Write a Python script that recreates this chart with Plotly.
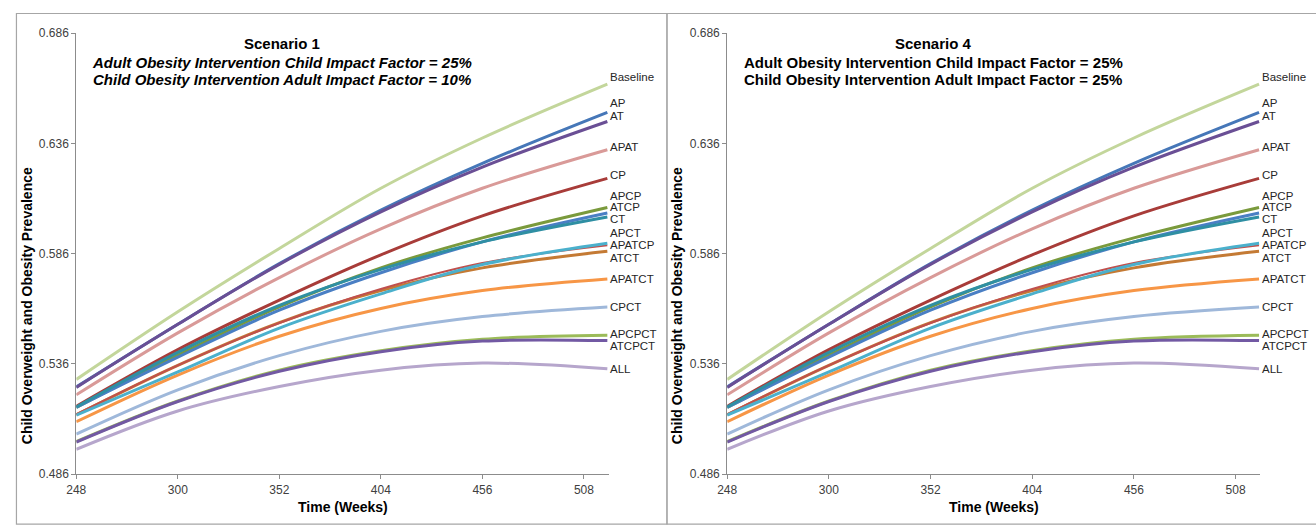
import plotly.graph_objects as go

weeks = [248, 300, 352, 404, 456, 520]

series_names = ["Baseline", "AP", "AT", "APAT", "CP", "APCP", "ATCP", "CT",
                "APCT", "APATCP", "ATCT", "APATCT", "CPCT", "APCPCT", "ATCPCT", "ALL"]

baseline = [0.5290, 0.5597, 0.5884, 0.6157, 0.6385, 0.6629]
ap       = [0.5256, 0.5540, 0.5815, 0.6058, 0.6270, 0.6501]
at       = [0.5254, 0.5540, 0.5812, 0.6050, 0.6253, 0.6460]
apat     = [0.5220, 0.5501, 0.5752, 0.5973, 0.6157, 0.6332]
cp       = [0.5168, 0.5425, 0.5650, 0.5855, 0.6032, 0.6202]
apcp     = [0.5163, 0.5400, 0.5619, 0.5796, 0.5932, 0.6070]
atcp     = [0.5163, 0.5391, 0.5604, 0.5774, 0.5914, 0.6045]
ct       = [0.5165, 0.5413, 0.5626, 0.5789, 0.5914, 0.6027]
apct     = [0.5128, 0.5324, 0.5523, 0.5678, 0.5811, 0.5908]
apatcp   = [0.5132, 0.5354, 0.5546, 0.5700, 0.5818, 0.5898]
atct     = [0.5130, 0.5354, 0.5548, 0.5693, 0.5796, 0.5871]
apatct   = [0.5098, 0.5310, 0.5486, 0.5612, 0.5693, 0.5746]
cpct     = [0.5042, 0.5243, 0.5398, 0.5508, 0.5575, 0.5618]
apcpct   = [0.5008, 0.5192, 0.5332, 0.5420, 0.5472, 0.5490]
atcpct   = [0.5006, 0.5190, 0.5327, 0.5416, 0.5464, 0.5466]
all_int  = [0.4973, 0.5147, 0.5258, 0.5332, 0.5364, 0.5338]

values = [baseline, ap, at, apat, cp, apcp, atcp, ct,
          apct, apatcp, atct, apatct, cpct, apcpct, atcpct, all_int]

x_ticks = [248, 300, 352, 404, 456, 508]
y_ticks = [0.486, 0.536, 0.586, 0.636, 0.686]
y_tick_labels = ["0.486", "0.536", "0.586", "0.636", "0.686"]

colors = ["#c3d69b", "#4677b8", "#6a4f95", "#d99a98", "#a83c39", "#7a9a3c",
          "#4a7fc4", "#2f8fa3", "#4bb0cc", "#c0504d", "#c47a34", "#f79646",
          "#9fb8da", "#9bbb59", "#7259a3", "#b6a6cc"]
widths = [3, 3, 3, 3, 3, 3, 3, 3, 3, 2, 3, 3, 3, 3, 3, 3]
# label vertical offsets (px) so end labels don't collide
label_shift = [7, 9, 5, 3, 3, 11, 6, -2, 10, 0, -7, 0, 0, 1, -5, 0]
draw_order = [0, 3, 4, 12, 15, 11, 10, 9, 8, 5, 6, 7, 1, 2, 13, 14]

panel_titles = [
    ("Scenario 1",
     "<i>Adult Obesity Intervention Child Impact Factor = 25%</i>",
     "<i>Child Obesity Intervention Adult Impact Factor = 10%</i>"),
    ("Scenario 4",
     "Adult Obesity Intervention Child Impact Factor = 25%",
     "Child Obesity Intervention Adult Impact Factor = 25%"),
]

W, H = 1316, 526
domains = [(66.8 / W, 603.3 / W), (722.7 / W, 1260 / W)]
ydom = (1 - 480 / H, 1 - 27 / H)

fig = go.Figure()
font_family = "Liberation Sans, Arial, sans-serif"

for p in range(2):
    xa = "x" if p == 0 else "x2"
    ya = "y" if p == 0 else "y2"
    for i in draw_order:
        fig.add_trace(go.Scatter(
            x=weeks, y=values[i], mode="lines", name=series_names[i],
            line=dict(color=colors[i], width=widths[i], shape="spline", smoothing=1.0),
            xaxis=xa, yaxis=ya, showlegend=False, hoverinfo="skip"))
    for i in range(len(series_names)):
        fig.add_annotation(x=weeks[-1], y=values[i][-1], xref=xa, yref=ya,
                           text=series_names[i], showarrow=False, xanchor="left",
                           yanchor="middle", xshift=1, yshift=label_shift[i],
                           font=dict(family=font_family, size=11.5, color="#262626"))

axis_common = dict(showgrid=False, zeroline=False, showline=True, linecolor="#8c8c8c",
                   linewidth=1, ticks="outside", ticklen=4, tickcolor="#8c8c8c",
                   tickfont=dict(family=font_family, size=12, color="#404040"))

for p in range(2):
    sfx = "" if p == 0 else "2"
    fig.update_layout(**{
        "xaxis" + sfx: dict(domain=list(domains[p]), range=[248, 520.7],
                             tickvals=x_ticks, anchor="y" + sfx, **axis_common),
        "yaxis" + sfx: dict(domain=list(ydom), range=[0.486, 0.686], tickvals=y_ticks,
                             ticktext=y_tick_labels, anchor="x" + sfx, **axis_common),
    })

annots = []
for p in range(2):
    x0, x1 = domains[p]
    cx = (x0 + x1) / 2
    tcx = x0 + (274.5 - 66.8) / W
    t1, t2, t3 = panel_titles[p]
    for txt, ypx in ((t1, 38), (t2, 57), (t3, 74)):
        annots.append(dict(x=tcx, y=1 - ypx / H, xref="paper", yref="paper",
                           text="<b>" + txt + "</b>", showarrow=False,
                           font=dict(family=font_family, size=15, color="#000"),
                           xanchor="center", yanchor="middle"))
    annots.append(dict(x=cx, y=1 - 514 / H, xref="paper", yref="paper", text="<b>Time (Weeks)</b>",
                       showarrow=False, font=dict(family=font_family, size=14, color="#000"),
                       xanchor="center", yanchor="middle"))
    ytx = 17 if p == 0 else 17 + 655.9
    annots.append(dict(x=ytx / W, y=1 - 306.5 / H, xref="paper", yref="paper",
                       text="<b>Child Overweight and Obesity Prevalence</b>", textangle=-90,
                       showarrow=False, font=dict(family=font_family, size=14, color="#000"),
                       xanchor="center", yanchor="middle"))

for a in annots:
    fig.add_annotation(**a)

border = "#a6a6a6"
fig.add_shape(type="rect", xref="paper", yref="paper", x0=6.5 / W, x1=662 / W,
              y0=-0.01, y1=1 - 6.7 / H, line=dict(color=border, width=1.2), layer="below")
fig.add_shape(type="rect", xref="paper", yref="paper", x0=662 / W, x1=1.01,
              y0=-0.01, y1=1 - 6.7 / H, line=dict(color=border, width=1.2), layer="below")

fig.update_layout(width=W, height=H, margin=dict(l=0, r=0, t=0, b=0),
                  plot_bgcolor="white", paper_bgcolor="white", showlegend=False)

fig.write_html("out.html", config={"displayModeBar": False},
               post_script="document.body.style.margin='0';document.body.style.padding='0';")
